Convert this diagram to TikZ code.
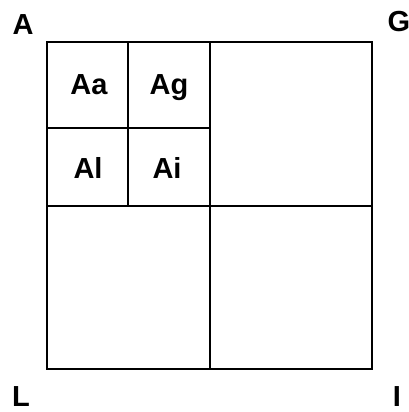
\documentclass[tikz,border=0pt]{standalone}
\usepackage{fontspec}
\setmainfont{Liberation Sans}
\begin{document}
\begin{tikzpicture}[x=1pt,y=-1pt,
  grid/.style={draw=black,line width=2.2pt},
  lab/.style={font=\fontsize{29}{29}\selectfont\bfseries,inner sep=0pt,anchor=base}]
\useasboundingbox (0,0) rectangle (409,412);
\coordinate (tl) at (47,42);
\coordinate (br) at (372,369);
\draw[grid] (tl) rectangle (br);
\draw[grid] (210,42) -- (210,369);
\draw[grid] (47,206) -- (372,206);
\draw[grid] (128,42) -- (128,206);
\draw[grid] (47,128) -- (210,128);
\node[lab] (cA) at (23,35) {A};
\node[lab] (cG) at (399,32) {G};
\node[lab] (cL) at (21,406) {L};
\node[lab] (cI) at (397,406) {I};
\node[lab] (aa) at (89,94) {Aa};
\node[lab] (ag) at (169,94) {Ag};
\node[lab] (al) at (88,178) {Al};
\node[lab] (ai) at (167,178) {Ai};
\end{tikzpicture}
\end{document}
